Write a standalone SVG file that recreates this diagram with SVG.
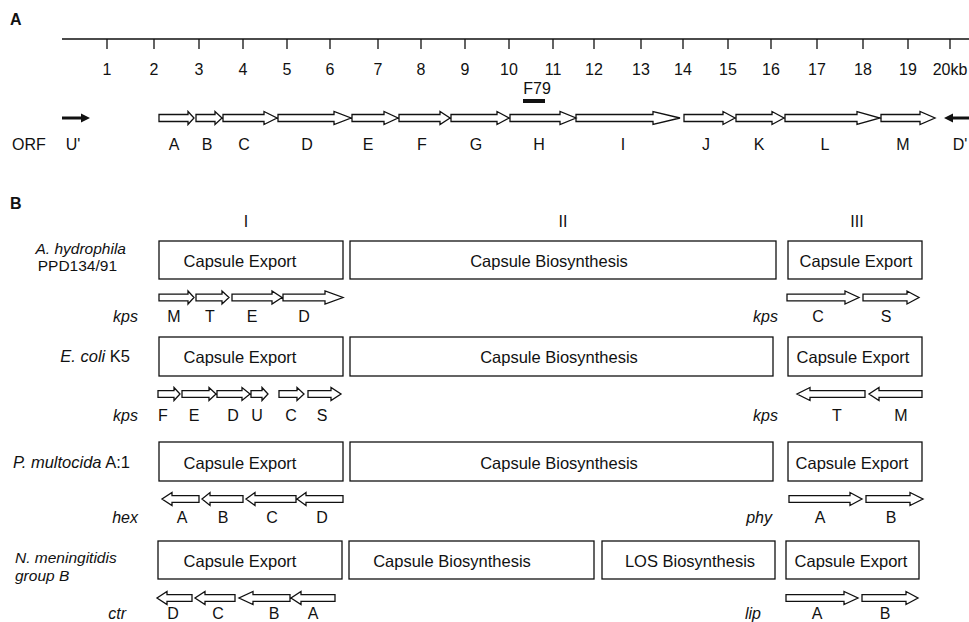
<svg xmlns="http://www.w3.org/2000/svg" width="969" height="622" viewBox="0 0 969 622">
<style>
text{font-family:"Liberation Sans",Arial,sans-serif;font-size:16px;fill:#111}
.b{font-weight:bold;font-size:16px}
.i{font-style:italic}
.m{text-anchor:middle}
.e{text-anchor:end}
.bx{fill:#fff;stroke:#111;stroke-width:1.3}
.ar{fill:#fff;stroke:#111;stroke-width:1.3;stroke-linejoin:miter}
.ln{stroke:#111;stroke-width:1.3;fill:none}
.bt{font-size:16.5px}
.sm{font-size:15.5px}
</style>
<rect width="969" height="622" fill="#fff"/>
<text class="b" x="10" y="25">A</text>
<g id="scale">
<path class="ln" d="M62,39H969M107,39V49M154,39V49M199,39V49M243,39V49M287,39V49M330,39V49M378,39V49M421,39V49M465,39V49M509,39V49M553,39V49M594,39V49M641,39V49M683,39V49M728,39V49M771,39V49M817,39V49M863,39V49M908,39V49M950,39V49"/>
<g class="m">
<text x="107" y="75">1</text><text x="154" y="75">2</text><text x="199" y="75">3</text><text x="243" y="75">4</text><text x="287" y="75">5</text><text x="330" y="75">6</text><text x="378" y="75">7</text><text x="421" y="75">8</text><text x="465" y="75">9</text><text x="509" y="75">10</text><text x="553" y="75">11</text><text x="594" y="75">12</text><text x="641" y="75">13</text><text x="683" y="75">14</text><text x="728" y="75">15</text><text x="771" y="75">16</text><text x="817" y="75">17</text><text x="863" y="75">18</text><text x="908" y="75">19</text><text x="950" y="75">20kb</text>
</g>
</g>
<g id="f79">
<text class="m" x="537" y="94">F79</text>
<rect x="523" y="99" width="22" height="4" fill="#111"/>
</g>
<g id="orf">
<text x="12" y="150">ORF</text>
<path class="ar" d="M159,114.5H188V111.5L194,118L188,124.5V121.5H159Z M196,114.5H215V111.5L222,118L215,124.5V121.5H196Z M223,114.5H264V111.5L277,118L264,124.5V121.5H223Z M278,114.5H334V111.5L351,118L334,124.5V121.5H278Z M352,114.5H384V111.5L398,118L384,124.5V121.5H352Z M399,114.5H440V111.5L450,118L440,124.5V121.5H399Z M451,114.5H497V111.5L509,118L497,124.5V121.5H451Z M510,114.5H560V111.5L576,118L560,124.5V121.5H510Z M576,114.5H653V111.5L680,118L653,124.5V121.5H576Z M684,114.5H723V111.5L735,118L723,124.5V121.5H684Z M736,114.5H772V111.5L784,118L772,124.5V121.5H736Z M785,114.5H857V111.5L880,118L857,124.5V121.5H785Z M881,114.5H920V111.5L935,118L920,124.5V121.5H881Z"/>
<path d="M62,118H82" stroke="#111" stroke-width="3"/>
<path d="M81,113.5L90,118L81,122.5Z" fill="#111"/>
<path d="M952,118H969" stroke="#111" stroke-width="3"/>
<path d="M953,113.5L944,118L953,122.5Z" fill="#111"/>
<g class="m">
<text x="73" y="150">U'</text><text x="174" y="150">A</text><text x="207" y="150">B</text><text x="244" y="150">C</text><text x="307" y="150">D</text><text x="368" y="150">E</text><text x="422" y="150">F</text><text x="476" y="150">G</text><text x="539" y="150">H</text><text x="623" y="150">I</text><text x="706" y="150">J</text><text x="759" y="150">K</text><text x="825" y="150">L</text><text x="903" y="150">M</text><text x="960" y="150">D'</text>
</g>
</g>
<text class="b" x="10" y="209">B</text>
<g id="regions" class="m">
<text x="246" y="227">I</text><text x="563" y="227">II</text><text x="857" y="227">III</text>
</g>
<g id="row-a-hydrophila">
<text class="i e sm" x="126" y="254">A. hydrophila</text>
<text class="e sm" x="117" y="271">PPD134/91</text>
<rect class="bx" x="159" y="241" width="184" height="38"/>
<rect class="bx" x="350" y="241" width="426" height="38"/>
<rect class="bx" x="788" y="241" width="134" height="38"/>
<text class="m bt" x="240" y="267">Capsule Export</text>
<text class="m bt" x="549" y="267">Capsule Biosynthesis</text>
<text class="m bt" x="856" y="267">Capsule Export</text>
<path class="ar" d="M159,294.2H188V291L194,297.5L188,304V300.8H159Z M196,294.2H222V291L229,297.5L222,304V300.8H196Z M232,294.2H272V291L282,297.5L272,304V300.8H232Z M283,294.2H325V291L343,297.5L325,304V300.8H283Z M787,294.2H845V291L859,297.5L845,304V300.8H787Z M863,294.2H907V291L919,297.5L907,304V300.8H863Z"/>
<text class="i e" x="138" y="322">kps</text>
<text class="i e" x="778" y="322">kps</text>
<g class="m"><text x="174" y="322">M</text><text x="210" y="322">T</text><text x="252" y="322">E</text><text x="304" y="322">D</text><text x="818" y="322">C</text><text x="886" y="322">S</text></g>
</g>
<g id="row-e-coli">
<text class="e bt" x="130" y="362"><tspan class="i">E. coli</tspan> K5</text>
<rect class="bx" x="159" y="337" width="184" height="39"/>
<rect class="bx" x="350" y="337" width="423" height="39"/>
<rect class="bx" x="788" y="337" width="134" height="39"/>
<text class="m bt" x="240" y="363">Capsule Export</text>
<text class="m bt" x="559" y="363">Capsule Biosynthesis</text>
<text class="m bt" x="853" y="363">Capsule Export</text>
<path class="ar" d="M158,390.7H174V387.5L180,394L174,400.5V397.3H158Z M182,390.7H209V387.5L216,394L209,400.5V397.3H182Z M217,390.7H242V387.5L250,394L242,400.5V397.3H217Z M251,390.7H262V387.5L268,394L262,400.5V397.3H251Z M279,390.7H297V387.5L304,394L297,400.5V397.3H279Z M308,390.7H331V387.5L341,394L331,400.5V397.3H308Z M865,390.7H810V387.5L797,394L810,400.5V397.3H865Z M922,390.7H879V387.5L869,394L879,400.5V397.3H922Z"/>
<text class="i e" x="138" y="421">kps</text>
<text class="i e" x="778" y="421">kps</text>
<g class="m"><text x="163" y="421">F</text><text x="194" y="421">E</text><text x="233" y="421">D</text><text x="257" y="421">U</text><text x="291" y="421">C</text><text x="322" y="421">S</text><text x="837" y="421">T</text><text x="901" y="421">M</text></g>
</g>
<g id="row-p-multocida">
<text class="e bt" x="130" y="468"><tspan class="i">P. multocida</tspan> A:1</text>
<rect class="bx" x="159" y="442" width="184" height="39"/>
<rect class="bx" x="350" y="442" width="423" height="39"/>
<rect class="bx" x="788" y="442" width="134" height="39"/>
<text class="m bt" x="240" y="469">Capsule Export</text>
<text class="m bt" x="559" y="469">Capsule Biosynthesis</text>
<text class="m bt" x="852" y="469">Capsule Export</text>
<path class="ar" d="M199,495.7H172V492.5L162,499L172,505.5V502.3H199Z M243,495.7H210V492.5L202,499L210,505.5V502.3H243Z M296,495.7H255V492.5L246,499L255,505.5V502.3H296Z M343,495.7H306V492.5L297,499L306,505.5V502.3H343Z M789,495.7H850V492.5L862,499L850,505.5V502.3H789Z M866,495.7H910V492.5L923,499L910,505.5V502.3H866Z"/>
<text class="i e" x="138" y="523">hex</text>
<text class="i e" x="772" y="523">phy</text>
<g class="m"><text x="182" y="523">A</text><text x="223" y="523">B</text><text x="272" y="523">C</text><text x="322" y="523">D</text><text x="820" y="523">A</text><text x="891" y="523">B</text></g>
</g>
<g id="row-n-meningitidis">
<text class="i sm" x="15" y="563">N. meningitidis</text>
<text class="i sm" x="15" y="581">group B</text>
<rect class="bx" x="158" y="541" width="184" height="38"/>
<rect class="bx" x="349" y="541" width="245" height="38"/>
<rect class="bx" x="602" y="541" width="173" height="38"/>
<rect class="bx" x="786" y="541" width="133" height="38"/>
<text class="m bt" x="240" y="567">Capsule Export</text>
<text class="m bt" x="452" y="567">Capsule Biosynthesis</text>
<text class="m bt" x="690" y="567">LOS Biosynthesis</text>
<text class="m bt" x="851" y="567">Capsule Export</text>
<path class="ar" d="M192,594.7H167V591.5L157,598L167,604.5V601.3H192Z M235,594.7H205V591.5L195,598L205,604.5V601.3H235Z M290,594.7H253V591.5L239,598L253,604.5V601.3H290Z M335,594.7H301V591.5L291,598L301,604.5V601.3H335Z M786,594.7H844V591.5L858,598L844,604.5V601.3H786Z M862,594.7H906V591.5L918,598L906,604.5V601.3H862Z"/>
<text class="i e" x="126" y="619">ctr</text>
<text class="i e" x="761" y="619">lip</text>
<g class="m"><text x="173" y="619">D</text><text x="218" y="619">C</text><text x="274" y="619">B</text><text x="313" y="619">A</text><text x="817" y="619">A</text><text x="885" y="619">B</text></g>
</g>
</svg>
